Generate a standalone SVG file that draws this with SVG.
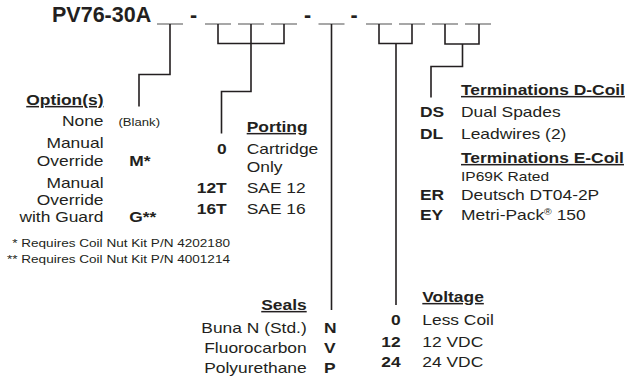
<svg xmlns="http://www.w3.org/2000/svg" width="631" height="385" viewBox="0 0 631 385">
<style>
text{font-family:"Liberation Sans",Arial,Helvetica,sans-serif;fill:#231f20}
.r{font-size:15px}
.b{font-size:15px;font-weight:bold}
.h{font-size:15px;font-weight:bold;text-decoration:underline}
.e{text-anchor:end}
.sm{font-size:11.5px}
.fn{font-size:11.8px;text-anchor:end}
.title{font-size:21.5px;font-weight:bold}
.blank{stroke:#8a8a8a;stroke-width:1.5;fill:none}
.wire{stroke:#231f20;stroke-width:1.6;fill:none}
</style>
<rect width="631" height="385" fill="#fff"/>
<g id="code">
<text x="52" y="22" class="title">PV76-30A</text>
<text x="193.5" y="22" class="title" text-anchor="middle">-</text>
<text x="307.5" y="22" class="title" text-anchor="middle">-</text>
<text x="354" y="22" class="title" text-anchor="middle">-</text>
<g id="blanks" class="blank">
<line x1="157" y1="24" x2="183" y2="24"/>
<line x1="205" y1="24" x2="231" y2="24"/>
<line x1="238" y1="24" x2="264" y2="24"/>
<line x1="271" y1="24" x2="297" y2="24"/>
<line x1="318.5" y1="24" x2="344.5" y2="24"/>
<line x1="366" y1="24" x2="392" y2="24"/>
<line x1="399" y1="24" x2="425" y2="24"/>
<line x1="432" y1="24" x2="458" y2="24"/>
<line x1="465" y1="24" x2="491" y2="24"/>
</g>
</g>
<g id="connectors" class="wire">
<path d="M170,24 V74.5 H139 V106.5"/>
<path d="M218,24 V43.5 H284 V24"/>
<path d="M251,24 V91.5 H221.5 V133.5"/>
<path d="M331.5,24 V310"/>
<path d="M379,24 V43.5 H412 V24"/>
<path d="M396,43.5 V305"/>
<path d="M445,24 V44 H479 V24"/>
<path d="M462.5,44 V66.5 H431 V97.5"/>
</g>
<g id="options">
<g transform="translate(103.5,0) scale(1.16,1)">
<text x="0" y="105" class="h e">Option(s)</text>
<text x="0" y="125.7" class="r e">None</text>
<text x="0" y="148" class="r e">Manual</text>
<text x="0" y="166" class="r e">Override</text>
<text x="0" y="188.5" class="r e">Manual</text>
<text x="0" y="205.5" class="r e">Override</text>
<text x="0" y="222.5" class="r e">with Guard</text>
</g>
<g transform="translate(118.5,0) scale(1.14,1)">
<text x="0" y="125.7" class="sm">(Blank)</text>
</g>
<g transform="translate(129.3,0) scale(1.16,1)">
<text x="0" y="166" class="b">M*</text>
<text x="0" y="222.5" class="b">G**</text>
</g>
</g>
<g id="footnotes" transform="translate(230,0) scale(1.15,1)">
<text x="0" y="246.7" class="fn">* Requires Coil Nut Kit P/N 4202180</text>
<text x="0" y="263.3" class="fn">** Requires Coil Nut Kit P/N 4001214</text>
</g>
<g id="porting">
<g transform="translate(226.7,0) scale(1.16,1)">
<text x="0" y="154" class="b e">0</text>
<text x="0" y="193" class="b e">12T</text>
<text x="0" y="214.5" class="b e">16T</text>
</g>
<g transform="translate(246.7,0) scale(1.16,1)">
<text x="0" y="132" class="h">Porting</text>
<text x="0" y="154" class="r">Cartridge</text>
<text x="0" y="171.7" class="r">Only</text>
<text x="0" y="193" class="r">SAE 12</text>
<text x="0" y="214.5" class="r">SAE 16</text>
</g>
</g>
<g id="terminations">
<g transform="translate(420,0) scale(1.16,1)">
<text x="0" y="117" class="b">DS</text>
<text x="0" y="139" class="b">DL</text>
<text x="0" y="200" class="b">ER</text>
<text x="0" y="220" class="b">EY</text>
</g>
<g transform="translate(461,0) scale(1.16,1)">
<text x="0" y="95" class="h">Terminations D-Coil</text>
<text x="0" y="117" class="r">Dual Spades</text>
<text x="0" y="139" class="r">Leadwires (2)</text>
<text x="0" y="163" class="h">Terminations E-Coil</text>
<text x="0" y="181.5" style="font-size:13.4px">IP69K Rated</text>
<text x="0" y="200" class="r">Deutsch DT04-2P</text>
<text x="0" y="220" class="r">Metri-Pack<tspan style="font-size:9px" dy="-5">®</tspan><tspan dy="5"> 150</tspan></text>
</g>
</g>
<g id="seals">
<g transform="translate(306.7,0) scale(1.16,1)">
<text x="0" y="310" class="h e">Seals</text>
<text x="0" y="333.3" class="r e">Buna N (Std.)</text>
<text x="0" y="353.5" class="r e">Fluorocarbon</text>
<text x="0" y="373.5" class="r e">Polyurethane</text>
</g>
<g transform="translate(324,0) scale(1.16,1)">
<text x="0" y="333.3" class="b">N</text>
<text x="0" y="353.5" class="b">V</text>
<text x="0" y="373.5" class="b">P</text>
</g>
</g>
<g id="voltage">
<g transform="translate(400.7,0) scale(1.16,1)">
<text x="0" y="325" class="b e">0</text>
<text x="0" y="346.7" class="b e">12</text>
<text x="0" y="366.7" class="b e">24</text>
</g>
<g transform="translate(422.3,0) scale(1.16,1)">
<text x="0" y="302" class="h">Voltage</text>
<text x="0" y="325" class="r">Less Coil</text>
<text x="0" y="346.7" class="r">12 VDC</text>
<text x="0" y="366.7" class="r">24 VDC</text>
</g>
</g>
</svg>
